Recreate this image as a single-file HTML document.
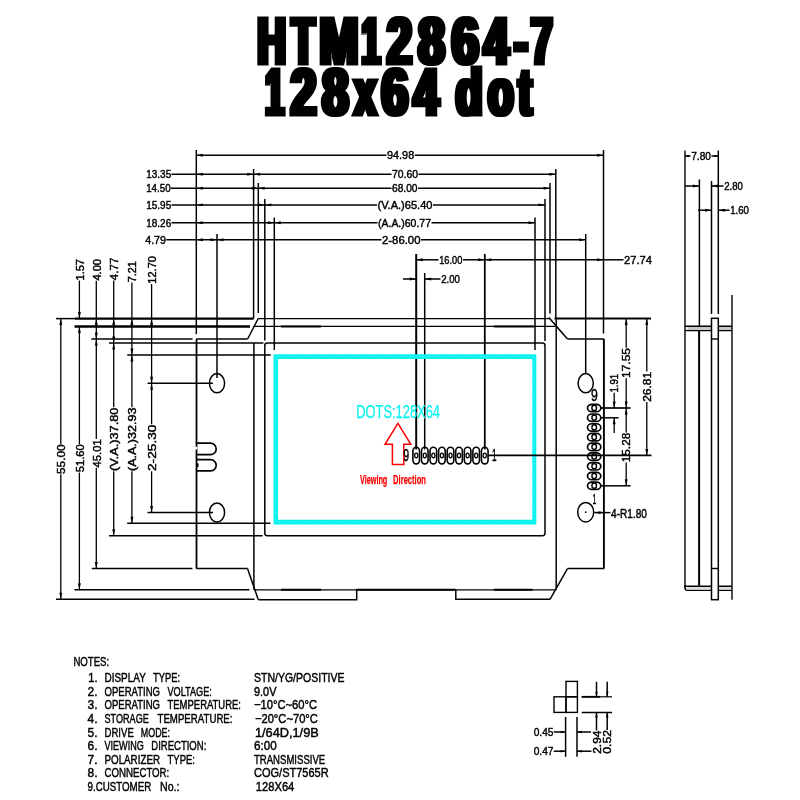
<!DOCTYPE html>
<html><head><meta charset="utf-8"><title>HTM12864-7 128x64 dot</title>
<style>
html,body{margin:0;padding:0;background:#fff;}
body{width:800px;height:800px;overflow:hidden;}
svg{display:block;}
.ttl{font-family:"Liberation Sans",sans-serif;font-weight:bold;stroke:#000;stroke-width:3px;stroke-linejoin:miter;}
.ns{stroke-width:0.25px !important;}
.t{font-family:"Liberation Sans",sans-serif;stroke-width:0.45px;paint-order:stroke;}
</style></head><body>
<svg width="800" height="800" viewBox="0 0 800 800">
<defs><filter id="fat" x="-5%" y="-5%" width="110%" height="110%"><feMorphology operator="dilate" radius="1.9 0"/></filter></defs>
<rect width="800" height="800" fill="#fff"/>
<g style="opacity:0.999">
<text class="ttl" filter="url(#fat)" font-size="70.0" transform="translate(0,63.59) scale(1,0.9408)" y="0"><tspan x="257.59" textLength="28.30" lengthAdjust="spacingAndGlyphs">H</tspan><tspan x="291.73" textLength="22.87" lengthAdjust="spacingAndGlyphs">T</tspan><tspan x="319.50" textLength="38.87" lengthAdjust="spacingAndGlyphs">M</tspan><tspan x="361.79" textLength="18.45" lengthAdjust="spacingAndGlyphs">1</tspan><tspan x="386.89" textLength="25.00" lengthAdjust="spacingAndGlyphs">2</tspan><tspan x="418.27" textLength="26.54" lengthAdjust="spacingAndGlyphs">8</tspan><tspan x="451.72" textLength="27.10" lengthAdjust="spacingAndGlyphs">6</tspan><tspan x="483.69" textLength="24.98" lengthAdjust="spacingAndGlyphs">4</tspan><tspan x="514.25" textLength="13.36" lengthAdjust="spacingAndGlyphs">-</tspan><tspan x="531.09" textLength="21.36" lengthAdjust="spacingAndGlyphs">7</tspan></text>
<text class="ttl" filter="url(#fat)" font-size="70.0" transform="translate(0,114.59) scale(1,0.9408)" y="0"><tspan x="265.54" textLength="18.40" lengthAdjust="spacingAndGlyphs">1</tspan><tspan x="290.68" textLength="25.58" lengthAdjust="spacingAndGlyphs">2</tspan><tspan x="322.38" textLength="26.28" lengthAdjust="spacingAndGlyphs">8</tspan><tspan x="354.35" textLength="22.00" lengthAdjust="spacingAndGlyphs">x</tspan><tspan x="381.53" textLength="26.68" lengthAdjust="spacingAndGlyphs">6</tspan><tspan x="413.44" textLength="25.22" lengthAdjust="spacingAndGlyphs">4</tspan> <tspan x="455.84" textLength="26.70" lengthAdjust="spacingAndGlyphs">d</tspan><tspan x="488.02" textLength="25.53" lengthAdjust="spacingAndGlyphs">o</tspan><tspan x="518.51" textLength="13.26" lengthAdjust="spacingAndGlyphs">t</tspan></text>
<line x1="196.3" y1="150" x2="196.3" y2="334.2" stroke="#000" stroke-width="1.5"/>
<line x1="603.5" y1="150" x2="603.5" y2="333.5" stroke="#000" stroke-width="1.5"/>
<line x1="253.6" y1="169" x2="253.6" y2="318.6" stroke="#000" stroke-width="1.5"/>
<line x1="555.8" y1="169" x2="555.8" y2="318.6" stroke="#000" stroke-width="1.5"/>
<line x1="258.3" y1="183" x2="258.3" y2="313" stroke="#000" stroke-width="1.5"/>
<line x1="550.0" y1="183" x2="550.0" y2="313.6" stroke="#000" stroke-width="1.5"/>
<line x1="264.8" y1="199" x2="264.8" y2="340.5" stroke="#000" stroke-width="1.5"/>
<line x1="545.0" y1="199" x2="545.0" y2="341" stroke="#000" stroke-width="1.5"/>
<line x1="274.3" y1="217.5" x2="274.3" y2="350" stroke="#000" stroke-width="1.5"/>
<line x1="535.0" y1="217.5" x2="535.0" y2="350" stroke="#000" stroke-width="1.5"/>
<line x1="217.0" y1="234" x2="217.0" y2="378" stroke="#000" stroke-width="1.5"/>
<line x1="585.7" y1="234" x2="585.7" y2="373.5" stroke="#000" stroke-width="1.5"/>
<line x1="196.3" y1="155.2" x2="386.5" y2="155.2" stroke="#000" stroke-width="1.5"/>
<line x1="414.7" y1="155.2" x2="603.5" y2="155.2" stroke="#000" stroke-width="1.5"/>
<polygon points="196.3,155.2 202.8,153.75 202.8,156.64999999999998" fill="#000"/>
<polygon points="603.5,155.2 597.0,153.75 597.0,156.64999999999998" fill="#000"/>
<text class="t" x="387" y="159.00" font-size="11.59" textLength="27.20" lengthAdjust="spacingAndGlyphs" fill="#000" stroke="#000" font-weight="normal">94.98</text>
<line x1="253.6" y1="174.2" x2="391.5" y2="174.2" stroke="#000" stroke-width="1.5"/>
<line x1="418.5" y1="174.2" x2="555.8" y2="174.2" stroke="#000" stroke-width="1.5"/>
<polygon points="253.6,174.2 260.1,172.75 260.1,175.64999999999998" fill="#000"/>
<polygon points="555.8,174.2 549.3,172.75 549.3,175.64999999999998" fill="#000"/>
<text class="t" x="392" y="178.00" font-size="11.59" textLength="26.00" lengthAdjust="spacingAndGlyphs" fill="#000" stroke="#000" font-weight="normal">70.60</text>
<line x1="258.3" y1="188.3" x2="391.5" y2="188.3" stroke="#000" stroke-width="1.5"/>
<line x1="418.0" y1="188.3" x2="550.0" y2="188.3" stroke="#000" stroke-width="1.5"/>
<polygon points="258.3,188.3 264.8,186.85000000000002 264.8,189.75" fill="#000"/>
<polygon points="550.0,188.3 543.5,186.85000000000002 543.5,189.75" fill="#000"/>
<text class="t" x="392" y="192.10" font-size="11.59" textLength="25.50" lengthAdjust="spacingAndGlyphs" fill="#000" stroke="#000" font-weight="normal">68.00</text>
<line x1="264.8" y1="204.9" x2="377.0" y2="204.9" stroke="#000" stroke-width="1.5"/>
<line x1="433.0" y1="204.9" x2="545.0" y2="204.9" stroke="#000" stroke-width="1.5"/>
<polygon points="264.8,204.9 271.3,203.45000000000002 271.3,206.35" fill="#000"/>
<polygon points="545.0,204.9 538.5,203.45000000000002 538.5,206.35" fill="#000"/>
<text class="t" x="377.5" y="208.70" font-size="11.59" textLength="55.00" lengthAdjust="spacingAndGlyphs" fill="#000" stroke="#000" font-weight="normal">(V.A.)65.40</text>
<line x1="274.3" y1="222.7" x2="377.5" y2="222.7" stroke="#000" stroke-width="1.5"/>
<line x1="431.5" y1="222.7" x2="535.0" y2="222.7" stroke="#000" stroke-width="1.5"/>
<polygon points="274.3,222.7 280.8,221.25 280.8,224.14999999999998" fill="#000"/>
<polygon points="535.0,222.7 528.5,221.25 528.5,224.14999999999998" fill="#000"/>
<text class="t" x="378" y="226.50" font-size="11.59" textLength="53.00" lengthAdjust="spacingAndGlyphs" fill="#000" stroke="#000" font-weight="normal">(A.A.)60.77</text>
<line x1="217.0" y1="239.8" x2="381.5" y2="239.8" stroke="#000" stroke-width="1.5"/>
<line x1="421.0" y1="239.8" x2="585.7" y2="239.8" stroke="#000" stroke-width="1.5"/>
<polygon points="217.0,239.8 223.5,238.35000000000002 223.5,241.25" fill="#000"/>
<polygon points="585.7,239.8 579.2,238.35000000000002 579.2,241.25" fill="#000"/>
<text class="t" x="382" y="243.60" font-size="11.59" textLength="38.50" lengthAdjust="spacingAndGlyphs" fill="#000" stroke="#000" font-weight="normal">2-86.00</text>
<text class="t" x="146.2" y="178.00" font-size="11.59" textLength="25.00" lengthAdjust="spacingAndGlyphs" fill="#000" stroke="#000" font-weight="normal">13.35</text>
<line x1="171.5" y1="174.2" x2="253.6" y2="174.2" stroke="#000" stroke-width="1.5"/>
<polygon points="196.3,174.2 202.8,172.75 202.8,175.64999999999998" fill="#000"/>
<polygon points="253.6,174.2 247.1,172.75 247.1,175.64999999999998" fill="#000"/>
<text class="t" x="146.2" y="192.10" font-size="11.59" textLength="24.40" lengthAdjust="spacingAndGlyphs" fill="#000" stroke="#000" font-weight="normal">14.50</text>
<line x1="170.9" y1="188.3" x2="258.3" y2="188.3" stroke="#000" stroke-width="1.5"/>
<polygon points="196.3,188.3 202.8,186.85000000000002 202.8,189.75" fill="#000"/>
<polygon points="258.3,188.3 251.8,186.85000000000002 251.8,189.75" fill="#000"/>
<text class="t" x="146.2" y="208.70" font-size="11.59" textLength="25.00" lengthAdjust="spacingAndGlyphs" fill="#000" stroke="#000" font-weight="normal">15.95</text>
<line x1="171.5" y1="204.9" x2="264.8" y2="204.9" stroke="#000" stroke-width="1.5"/>
<polygon points="196.3,204.9 202.8,203.45000000000002 202.8,206.35" fill="#000"/>
<polygon points="264.8,204.9 258.3,203.45000000000002 258.3,206.35" fill="#000"/>
<text class="t" x="146.2" y="226.50" font-size="11.59" textLength="25.00" lengthAdjust="spacingAndGlyphs" fill="#000" stroke="#000" font-weight="normal">18.26</text>
<line x1="171.5" y1="222.7" x2="274.3" y2="222.7" stroke="#000" stroke-width="1.5"/>
<polygon points="196.3,222.7 202.8,221.25 202.8,224.14999999999998" fill="#000"/>
<polygon points="274.3,222.7 267.8,221.25 267.8,224.14999999999998" fill="#000"/>
<text class="t" x="145.2" y="243.60" font-size="11.59" textLength="20.80" lengthAdjust="spacingAndGlyphs" fill="#000" stroke="#000" font-weight="normal">4.79</text>
<line x1="166.3" y1="239.8" x2="217.0" y2="239.8" stroke="#000" stroke-width="1.5"/>
<polygon points="196.3,239.8 202.8,238.35000000000002 202.8,241.25" fill="#000"/>
<polygon points="217.0,239.8 210.5,238.35000000000002 210.5,241.25" fill="#000"/>
<line x1="416.2" y1="254" x2="416.2" y2="449.5" stroke="#000" stroke-width="2.0"/>
<line x1="424.7" y1="273" x2="424.7" y2="449.5" stroke="#000" stroke-width="1.5"/>
<line x1="484.8" y1="254" x2="484.8" y2="449.5" stroke="#000" stroke-width="1.8"/>
<line x1="416.2" y1="259.8" x2="438.5" y2="259.8" stroke="#000" stroke-width="1.5"/>
<text class="t" x="439.2" y="263.60" font-size="11.59" textLength="23.10" lengthAdjust="spacingAndGlyphs" fill="#000" stroke="#000" font-weight="normal">16.00</text>
<line x1="463" y1="259.8" x2="484.8" y2="259.8" stroke="#000" stroke-width="1.5"/>
<polygon points="416.2,259.8 422.7,258.35 422.7,261.25" fill="#000"/>
<polygon points="484.8,259.8 478.3,258.35 478.3,261.25" fill="#000"/>
<line x1="484.8" y1="259.8" x2="603.5" y2="259.8" stroke="#000" stroke-width="1.5"/>
<polygon points="484.8,259.8 491.3,258.35 491.3,261.25" fill="#000"/>
<polygon points="603.5,259.8 597.0,258.35 597.0,261.25" fill="#000"/>
<line x1="603.5" y1="259.8" x2="623.5" y2="259.8" stroke="#000" stroke-width="1.5"/>
<text class="t" x="624" y="263.60" font-size="11.59" textLength="28.00" lengthAdjust="spacingAndGlyphs" fill="#000" stroke="#000" font-weight="normal">27.74</text>
<line x1="403" y1="279.0" x2="416.2" y2="279.0" stroke="#000" stroke-width="1.5"/>
<polygon points="416.2,279.0 409.7,277.55 409.7,280.45" fill="#000"/>
<line x1="424.7" y1="279.0" x2="440.5" y2="279.0" stroke="#000" stroke-width="1.5"/>
<polygon points="424.7,279.0 431.2,277.55 431.2,280.45" fill="#000"/>
<text class="t" x="441.2" y="282.80" font-size="11.59" textLength="18.80" lengthAdjust="spacingAndGlyphs" fill="#000" stroke="#000" font-weight="normal">2.00</text>
<line x1="75" y1="318.6" x2="253.6" y2="318.6" stroke="#000" stroke-width="2.4"/>
<line x1="56" y1="318.6" x2="76" y2="318.6" stroke="#000" stroke-width="1.5"/>
<line x1="74.5" y1="326.45" x2="250" y2="326.45" stroke="#000" stroke-width="2.4"/>
<line x1="91.3" y1="339.0" x2="192.6" y2="339.0" stroke="#000" stroke-width="1.5"/>
<line x1="196.3" y1="339.0" x2="247.6" y2="339.0" stroke="#000" stroke-width="1.5"/>
<line x1="109" y1="343.1" x2="263.4" y2="343.1" stroke="#000" stroke-width="1.5"/>
<line x1="127.2" y1="355.1" x2="270.8" y2="355.1" stroke="#000" stroke-width="1.5"/>
<line x1="147.5" y1="383.2" x2="213" y2="383.2" stroke="#000" stroke-width="1.5"/>
<line x1="147.5" y1="512.5" x2="213" y2="512.5" stroke="#000" stroke-width="1.5"/>
<line x1="127.2" y1="523.25" x2="270.4" y2="523.25" stroke="#000" stroke-width="1.5"/>
<line x1="109" y1="535.75" x2="262.6" y2="535.75" stroke="#000" stroke-width="1.5"/>
<line x1="91.8" y1="568.6" x2="192.4" y2="568.6" stroke="#000" stroke-width="1.5"/>
<line x1="74.5" y1="589.8" x2="249.4" y2="589.8" stroke="#000" stroke-width="1.5"/>
<line x1="56" y1="599.3" x2="254.5" y2="599.3" stroke="#000" stroke-width="1.5"/>
<line x1="60.8" y1="318.6" x2="60.8" y2="444" stroke="#000" stroke-width="1.3"/>
<line x1="60.8" y1="474.3" x2="60.8" y2="599.3" stroke="#000" stroke-width="1.3"/>
<polygon points="60.8,318.6 59.349999999999994,325.1 62.25,325.1" fill="#000"/>
<polygon points="60.8,599.3 59.349999999999994,592.8 62.25,592.8" fill="#000"/>
<text class="t" transform="translate(65.00,474) rotate(-90)" font-size="10.89" textLength="29.70" lengthAdjust="spacingAndGlyphs" fill="#000" stroke="#000">55.00</text>
<line x1="79.4" y1="280.5" x2="79.4" y2="318.6" stroke="#000" stroke-width="1.3"/>
<polygon points="79.4,318.6 77.95,312.1 80.85000000000001,312.1" fill="#000"/>
<text class="t" transform="translate(83.60,280.5) rotate(-90)" font-size="10.89" textLength="21.50" lengthAdjust="spacingAndGlyphs" fill="#000" stroke="#000">1.57</text>
<line x1="79.4" y1="326.45" x2="79.4" y2="444" stroke="#000" stroke-width="1.3"/>
<line x1="79.4" y1="472.5" x2="79.4" y2="589.8" stroke="#000" stroke-width="1.3"/>
<polygon points="79.4,326.45 77.95,332.95 80.85000000000001,332.95" fill="#000"/>
<polygon points="79.4,589.8 77.95,583.3 80.85000000000001,583.3" fill="#000"/>
<text class="t" transform="translate(83.60,472.3) rotate(-90)" font-size="10.89" textLength="28.00" lengthAdjust="spacingAndGlyphs" fill="#000" stroke="#000">51.60</text>
<line x1="96.3" y1="280.8" x2="96.3" y2="439" stroke="#000" stroke-width="1.3"/>
<polygon points="96.3,318.6 94.85,325.1 97.75,325.1" fill="#000"/>
<polygon points="96.3,339.0 94.85,332.5 97.75,332.5" fill="#000"/>
<polygon points="96.3,339.0 94.85,345.5 97.75,345.5" fill="#000"/>
<text class="t" transform="translate(100.60,280.6) rotate(-90)" font-size="10.89" textLength="21.60" lengthAdjust="spacingAndGlyphs" fill="#000" stroke="#000">4.00</text>
<line x1="96.3" y1="467.8" x2="96.3" y2="568.6" stroke="#000" stroke-width="1.3"/>
<polygon points="96.3,568.6 94.85,562.1 97.75,562.1" fill="#000"/>
<text class="t" transform="translate(100.50,467.6) rotate(-90)" font-size="10.89" textLength="28.40" lengthAdjust="spacingAndGlyphs" fill="#000" stroke="#000">45.01</text>
<line x1="113.7" y1="280.5" x2="113.7" y2="407.3" stroke="#000" stroke-width="1.3"/>
<polygon points="113.7,318.6 112.25,325.1 115.15,325.1" fill="#000"/>
<polygon points="113.7,343.1 112.25,336.6 115.15,336.6" fill="#000"/>
<polygon points="113.7,343.1 112.25,349.6 115.15,349.6" fill="#000"/>
<text class="t" transform="translate(117.80,280.2) rotate(-90)" font-size="10.89" textLength="22.60" lengthAdjust="spacingAndGlyphs" fill="#000" stroke="#000">4.77</text>
<line x1="113.7" y1="471.3" x2="113.7" y2="535.75" stroke="#000" stroke-width="1.3"/>
<polygon points="113.7,535.75 112.25,529.25 115.15,529.25" fill="#000"/>
<text class="t" transform="translate(117.90,471) rotate(-90)" font-size="10.89" textLength="63.40" lengthAdjust="spacingAndGlyphs" fill="#000" stroke="#000">(V.A.)37.80</text>
<line x1="131.9" y1="282.5" x2="131.9" y2="407.3" stroke="#000" stroke-width="1.3"/>
<polygon points="131.9,318.6 130.45000000000002,325.1 133.35,325.1" fill="#000"/>
<polygon points="131.9,355.1 130.45000000000002,348.6 133.35,348.6" fill="#000"/>
<polygon points="131.9,355.1 130.45000000000002,361.6 133.35,361.6" fill="#000"/>
<text class="t" transform="translate(136.00,282.2) rotate(-90)" font-size="10.89" textLength="21.00" lengthAdjust="spacingAndGlyphs" fill="#000" stroke="#000">7.21</text>
<line x1="131.9" y1="471.3" x2="131.9" y2="523.25" stroke="#000" stroke-width="1.3"/>
<polygon points="131.9,523.25 130.45000000000002,516.75 133.35,516.75" fill="#000"/>
<text class="t" transform="translate(136.10,471) rotate(-90)" font-size="10.89" textLength="63.40" lengthAdjust="spacingAndGlyphs" fill="#000" stroke="#000">(A.A.)32.93</text>
<line x1="151.6" y1="284" x2="151.6" y2="424.3" stroke="#000" stroke-width="1.3"/>
<polygon points="151.6,318.6 150.15,325.1 153.04999999999998,325.1" fill="#000"/>
<polygon points="151.6,383.2 150.15,376.7 153.04999999999998,376.7" fill="#000"/>
<polygon points="151.6,383.2 150.15,389.7 153.04999999999998,389.7" fill="#000"/>
<text class="t" transform="translate(155.60,283.7) rotate(-90)" font-size="10.89" textLength="27.70" lengthAdjust="spacingAndGlyphs" fill="#000" stroke="#000">12.70</text>
<line x1="151.6" y1="471.3" x2="151.6" y2="512.5" stroke="#000" stroke-width="1.3"/>
<polygon points="151.6,512.5 150.15,506.0 153.04999999999998,506.0" fill="#000"/>
<text class="t" transform="translate(155.80,471) rotate(-90)" font-size="10.89" textLength="46.40" lengthAdjust="spacingAndGlyphs" fill="#000" stroke="#000">2-25.30</text>
<line x1="196.5" y1="339.0" x2="196.5" y2="568.6" stroke="#000" stroke-width="1.8"/>
<line x1="196.3" y1="568.6" x2="247.5" y2="568.6" stroke="#000" stroke-width="1.5"/>
<line x1="247.5" y1="568.6" x2="258.3" y2="599.6999999999999" stroke="#000" stroke-width="1.5"/>
<line x1="258.5" y1="318.0" x2="247.6" y2="339.0" stroke="#000" stroke-width="1.5"/>
<line x1="258.5" y1="318.6" x2="550" y2="318.6" stroke="#000" stroke-width="1.3"/>
<line x1="554.5" y1="318.6" x2="651" y2="318.6" stroke="#000" stroke-width="2.0"/>
<line x1="253.5" y1="326.45" x2="555" y2="326.45" stroke="#000" stroke-width="1.3"/>
<line x1="281" y1="326.45" x2="321" y2="326.45" stroke="#000" stroke-width="2.0"/>
<line x1="493.8" y1="326.45" x2="533.8" y2="326.45" stroke="#000" stroke-width="2.0"/>
<line x1="548.8" y1="317.6" x2="567.5" y2="339.0" stroke="#000" stroke-width="1.5"/>
<line x1="567.5" y1="339.0" x2="604" y2="339.0" stroke="#000" stroke-width="1.5"/>
<line x1="603.9" y1="339.0" x2="603.9" y2="568.6" stroke="#000" stroke-width="1.9"/>
<line x1="567.5" y1="568.6" x2="603.9" y2="568.6" stroke="#000" stroke-width="1.5"/>
<line x1="567.5" y1="568.6" x2="550" y2="599.3" stroke="#000" stroke-width="1.5"/>
<line x1="253.9" y1="343.1" x2="253.9" y2="589.8" stroke="#000" stroke-width="1.5"/>
<line x1="556.2" y1="318.6" x2="556.2" y2="589.8" stroke="#000" stroke-width="1.5"/>
<line x1="253.9" y1="589.8" x2="556.2" y2="589.8" stroke="#000" stroke-width="1.3"/>
<line x1="281" y1="589.8" x2="321" y2="589.8" stroke="#000" stroke-width="2.0"/>
<line x1="356" y1="589.8" x2="455.8" y2="589.8" stroke="#000" stroke-width="2.0"/>
<line x1="493.8" y1="589.8" x2="532.5" y2="589.8" stroke="#000" stroke-width="2.0"/>
<path d="M258.3 599.6999999999999 L356.7 599.6999999999999 L356.7 589.8" stroke="#000" stroke-width="1.5" fill="none" stroke-linejoin="miter"/>
<path d="M455.8 589.8 L455.8 599.3 L550 599.3" stroke="#000" stroke-width="1.5" fill="none" stroke-linejoin="miter"/>
<rect x="264.8" y="343.1" width="280.2" height="192.64999999999998" rx="2.4" ry="2.4" fill="none" stroke="#000" stroke-width="1.5"/>
<path fill-rule="evenodd" fill="#08f2f0" d="M273.5 354.3 H536.3 V524.4 H273.5 Z M278 359 V519.8 H532.3 V359 Z"/>
<rect x="275.7" y="356.6" width="258.4" height="165.5" fill="none" stroke="#5ff8f6" stroke-width="1" stroke-dasharray="1 2.2"/>
<ellipse cx="217.0" cy="383.2" rx="7.6" ry="9.6" fill="none" stroke="#000" stroke-width="1.5"/>
<ellipse cx="217.0" cy="512.5" rx="7.6" ry="9.6" fill="none" stroke="#000" stroke-width="1.5"/>
<ellipse cx="585.7" cy="383.2" rx="7.6" ry="9.6" fill="none" stroke="#000" stroke-width="1.5"/>
<ellipse cx="585.7" cy="512.2" rx="8" ry="9.8" fill="none" stroke="#000" stroke-width="1.5"/>
<circle cx="585.7" cy="512.2" r="0.9" fill="#000"/>
<path d="M196.3 443.1 H210.4 A5.799999999999983 5.799999999999983 0 0 1 210.4 454.7 H196.3" fill="none" stroke="#000" stroke-width="1.7"/>
<ellipse cx="196.0" cy="448.03000000000003" rx="1.3" ry="1.6" fill="#fff"/>
<path d="M196.3 459.7 H210.6 A5.599999999999994 5.599999999999994 0 0 1 210.6 470.9 H196.3" fill="none" stroke="#000" stroke-width="1.7"/>
<ellipse cx="197.70000000000002" cy="465.29999999999995" rx="0.9" ry="2.2" fill="#000"/>
<text class="t ns" x="356.2" y="418.45" font-size="19.27" textLength="83.80" lengthAdjust="spacingAndGlyphs" fill="#08f2f0" stroke="#08f2f0" font-weight="normal">DOTS:128X64</text>
<path d="M397.9 423.4 L410.8 444.3 L403.8 444.3 L403.8 464.4 L392.4 464.4 L392.4 444.3 L385 444.3 Z" stroke="#ff0000" stroke-width="1.5" fill="none" stroke-linejoin="miter"/>
<text class="t ns" x="360" y="483.95" font-size="12.57" textLength="27.30" lengthAdjust="spacingAndGlyphs" fill="#ff0000" stroke="#ff0000" font-weight="bold">Viewing</text>
<text class="t ns" x="393.1" y="483.95" font-size="12.57" textLength="32.90" lengthAdjust="spacingAndGlyphs" fill="#ff0000" stroke="#ff0000" font-weight="bold">Direction</text>
<rect x="412.90" y="447.3" width="6.6" height="16.6" rx="3.3" ry="3.6" fill="none" stroke="#000" stroke-width="1.6"/>
<ellipse cx="416.20" cy="455.5" rx="1.6" ry="2.4" fill="none" stroke="#000" stroke-width="1.3"/>
<rect x="421.47" y="447.3" width="6.6" height="16.6" rx="3.3" ry="3.6" fill="none" stroke="#000" stroke-width="1.6"/>
<ellipse cx="424.77" cy="455.5" rx="1.6" ry="2.4" fill="none" stroke="#000" stroke-width="1.3"/>
<rect x="430.04" y="447.3" width="6.6" height="16.6" rx="3.3" ry="3.6" fill="none" stroke="#000" stroke-width="1.6"/>
<ellipse cx="433.34" cy="455.5" rx="1.6" ry="2.4" fill="none" stroke="#000" stroke-width="1.3"/>
<rect x="438.61" y="447.3" width="6.6" height="16.6" rx="3.3" ry="3.6" fill="none" stroke="#000" stroke-width="1.6"/>
<ellipse cx="441.91" cy="455.5" rx="1.6" ry="2.4" fill="none" stroke="#000" stroke-width="1.3"/>
<rect x="447.18" y="447.3" width="6.6" height="16.6" rx="3.3" ry="3.6" fill="none" stroke="#000" stroke-width="1.6"/>
<ellipse cx="450.48" cy="455.5" rx="1.6" ry="2.4" fill="none" stroke="#000" stroke-width="1.3"/>
<rect x="455.75" y="447.3" width="6.6" height="16.6" rx="3.3" ry="3.6" fill="none" stroke="#000" stroke-width="1.6"/>
<ellipse cx="459.05" cy="455.5" rx="1.6" ry="2.4" fill="none" stroke="#000" stroke-width="1.3"/>
<rect x="464.32" y="447.3" width="6.6" height="16.6" rx="3.3" ry="3.6" fill="none" stroke="#000" stroke-width="1.6"/>
<ellipse cx="467.62" cy="455.5" rx="1.6" ry="2.4" fill="none" stroke="#000" stroke-width="1.3"/>
<rect x="472.89" y="447.3" width="6.6" height="16.6" rx="3.3" ry="3.6" fill="none" stroke="#000" stroke-width="1.6"/>
<ellipse cx="476.19" cy="455.5" rx="1.6" ry="2.4" fill="none" stroke="#000" stroke-width="1.3"/>
<rect x="481.46" y="447.3" width="6.6" height="16.6" rx="3.3" ry="3.6" fill="none" stroke="#000" stroke-width="1.6"/>
<ellipse cx="484.76" cy="455.5" rx="1.6" ry="2.4" fill="none" stroke="#000" stroke-width="1.3"/>
<text class="t" x="403.3" y="460.85" font-size="16.20" textLength="5.90" lengthAdjust="spacingAndGlyphs" fill="#000" stroke="#000" font-weight="normal">9</text>
<text class="t" x="492" y="460.85" font-size="16.20" textLength="4.60" lengthAdjust="spacingAndGlyphs" fill="#000" stroke="#000" font-weight="normal">1</text>
<line x1="488.8" y1="455.35" x2="651.5" y2="455.35" stroke="#000" stroke-width="1.7"/>
<rect x="587.5" y="404.30" width="13.3" height="7.4" rx="4.4" ry="3.7" fill="none" stroke="#000" stroke-width="1.7"/>
<ellipse cx="594.2" cy="407.90" rx="2.3" ry="2.6" fill="none" stroke="#000" stroke-width="1.4"/>
<rect x="587.5" y="414.02" width="13.3" height="7.4" rx="4.4" ry="3.7" fill="none" stroke="#000" stroke-width="1.7"/>
<ellipse cx="594.2" cy="417.62" rx="2.3" ry="2.6" fill="none" stroke="#000" stroke-width="1.4"/>
<rect x="587.5" y="423.74" width="13.3" height="7.4" rx="4.4" ry="3.7" fill="none" stroke="#000" stroke-width="1.7"/>
<ellipse cx="594.2" cy="427.34" rx="2.3" ry="2.6" fill="none" stroke="#000" stroke-width="1.4"/>
<rect x="587.5" y="433.46" width="13.3" height="7.4" rx="4.4" ry="3.7" fill="none" stroke="#000" stroke-width="1.7"/>
<ellipse cx="594.2" cy="437.06" rx="2.3" ry="2.6" fill="none" stroke="#000" stroke-width="1.4"/>
<rect x="587.5" y="443.18" width="13.3" height="7.4" rx="4.4" ry="3.7" fill="none" stroke="#000" stroke-width="1.7"/>
<ellipse cx="594.2" cy="446.78" rx="2.3" ry="2.6" fill="none" stroke="#000" stroke-width="1.4"/>
<rect x="587.5" y="452.90" width="13.3" height="7.4" rx="4.4" ry="3.7" fill="none" stroke="#000" stroke-width="1.7"/>
<ellipse cx="594.2" cy="456.50" rx="2.3" ry="2.6" fill="none" stroke="#000" stroke-width="1.4"/>
<rect x="587.5" y="462.62" width="13.3" height="7.4" rx="4.4" ry="3.7" fill="none" stroke="#000" stroke-width="1.7"/>
<ellipse cx="594.2" cy="466.22" rx="2.3" ry="2.6" fill="none" stroke="#000" stroke-width="1.4"/>
<rect x="587.5" y="472.34" width="13.3" height="7.4" rx="4.4" ry="3.7" fill="none" stroke="#000" stroke-width="1.7"/>
<ellipse cx="594.2" cy="475.94" rx="2.3" ry="2.6" fill="none" stroke="#000" stroke-width="1.4"/>
<rect x="587.5" y="482.06" width="13.3" height="7.4" rx="4.4" ry="3.7" fill="none" stroke="#000" stroke-width="1.7"/>
<ellipse cx="594.2" cy="485.66" rx="2.3" ry="2.6" fill="none" stroke="#000" stroke-width="1.4"/>
<text class="t" x="591" y="400.60" font-size="16.06" textLength="6.80" lengthAdjust="spacingAndGlyphs" fill="#000" stroke="#000" font-weight="normal">9</text>
<text class="t" x="592.5" y="503.90" font-size="14.66" textLength="3.80" lengthAdjust="spacingAndGlyphs" fill="#000" stroke="#000" font-weight="normal">1</text>
<line x1="601" y1="408" x2="630.6" y2="408" stroke="#000" stroke-width="1.7"/>
<line x1="601" y1="417.8" x2="618.6" y2="417.8" stroke="#000" stroke-width="1.5"/>
<line x1="601" y1="485.8" x2="630.6" y2="485.8" stroke="#000" stroke-width="1.5"/>
<line x1="626.2" y1="318.6" x2="626.2" y2="347.8" stroke="#000" stroke-width="1.3"/>
<line x1="626.2" y1="378.3" x2="626.2" y2="408" stroke="#000" stroke-width="1.3"/>
<polygon points="626.2,318.6 624.75,325.1 627.6500000000001,325.1" fill="#000"/>
<polygon points="626.2,408 624.75,401.5 627.6500000000001,401.5" fill="#000"/>
<text class="t" transform="translate(630.40,378) rotate(-90)" font-size="10.89" textLength="30.00" lengthAdjust="spacingAndGlyphs" fill="#000" stroke="#000">17.55</text>
<line x1="626.2" y1="408" x2="626.2" y2="432.6" stroke="#000" stroke-width="1.3"/>
<line x1="626.2" y1="462.4" x2="626.2" y2="485.8" stroke="#000" stroke-width="1.3"/>
<polygon points="626.2,408 624.75,414.5 627.6500000000001,414.5" fill="#000"/>
<polygon points="626.2,485.8 624.75,479.3 627.6500000000001,479.3" fill="#000"/>
<text class="t" transform="translate(630.40,462.2) rotate(-90)" font-size="10.89" textLength="29.40" lengthAdjust="spacingAndGlyphs" fill="#000" stroke="#000">15.28</text>
<line x1="646.8" y1="318.6" x2="646.8" y2="371.6" stroke="#000" stroke-width="1.3"/>
<line x1="646.8" y1="402" x2="646.8" y2="455.4" stroke="#000" stroke-width="1.3"/>
<polygon points="646.8,318.6 645.3499999999999,325.1 648.25,325.1" fill="#000"/>
<polygon points="646.8,455.4 645.3499999999999,448.9 648.25,448.9" fill="#000"/>
<text class="t" transform="translate(651.00,401.8) rotate(-90)" font-size="10.89" textLength="30.00" lengthAdjust="spacingAndGlyphs" fill="#000" stroke="#000">26.81</text>
<line x1="614.2" y1="392.8" x2="614.2" y2="408" stroke="#000" stroke-width="1.3"/>
<polygon points="614.2,408 612.75,401.5 615.6500000000001,401.5" fill="#000"/>
<text class="t" transform="translate(618.20,392.5) rotate(-90)" font-size="10.61" textLength="18.70" lengthAdjust="spacingAndGlyphs" fill="#000" stroke="#000">1.91</text>
<line x1="614.2" y1="417.8" x2="614.2" y2="433" stroke="#000" stroke-width="1.3"/>
<polygon points="614.2,417.8 612.75,424.3 615.6500000000001,424.3" fill="#000"/>
<polygon points="594.2,512.6 600.7,511.15000000000003 600.7,514.0500000000001" fill="#000"/>
<line x1="594.2" y1="512.6" x2="610.5" y2="512.6" stroke="#000" stroke-width="1.5"/>
<text class="t" x="611" y="517.55" font-size="12.29" textLength="36.00" lengthAdjust="spacingAndGlyphs" fill="#000" stroke="#000" font-weight="normal">4-R1.80</text>
<line x1="718.3" y1="150.5" x2="718.3" y2="314" stroke="#000" stroke-width="1.5"/>
<line x1="699.4" y1="179.5" x2="699.4" y2="326" stroke="#000" stroke-width="1.5"/>
<line x1="711.5" y1="181" x2="711.5" y2="314" stroke="#000" stroke-width="1.5"/>
<line x1="685.0" y1="156" x2="690.5" y2="156" stroke="#000" stroke-width="1.5"/>
<line x1="711.5" y1="156" x2="718.3" y2="156" stroke="#000" stroke-width="1.5"/>
<polygon points="685.0,156 689.0,154.7 689.0,157.3" fill="#000"/>
<polygon points="718.3,156 714.3,154.7 714.3,157.3" fill="#000"/>
<text class="t" x="691.2" y="160.00" font-size="11.59" textLength="19.80" lengthAdjust="spacingAndGlyphs" fill="#000" stroke="#000" font-weight="normal">7.80</text>
<line x1="685.0" y1="186" x2="699.4" y2="186" stroke="#000" stroke-width="1.5"/>
<polygon points="699.4,186 692.9,184.55 692.9,187.45" fill="#000"/>
<polygon points="711.5,186 718.0,184.55 718.0,187.45" fill="#000"/>
<line x1="711.5" y1="186" x2="723.5" y2="186" stroke="#000" stroke-width="1.5"/>
<text class="t" x="724.2" y="190.10" font-size="11.59" textLength="18.80" lengthAdjust="spacingAndGlyphs" fill="#000" stroke="#000" font-weight="normal">2.80</text>
<line x1="698" y1="210.2" x2="711.5" y2="210.2" stroke="#000" stroke-width="1.5"/>
<polygon points="711.5,210.2 705.0,208.75 705.0,211.64999999999998" fill="#000"/>
<polygon points="718.3,210.2 724.8,208.75 724.8,211.64999999999998" fill="#000"/>
<line x1="718.3" y1="210.2" x2="729.5" y2="210.2" stroke="#000" stroke-width="1.5"/>
<text class="t" x="730.2" y="214.30" font-size="11.59" textLength="18.80" lengthAdjust="spacingAndGlyphs" fill="#000" stroke="#000" font-weight="normal">1.60</text>
<line x1="685.0" y1="150.5" x2="685.0" y2="588" stroke="#000" stroke-width="1.4"/>
<line x1="687.2" y1="328.4" x2="732.0" y2="328.4" stroke="#c8c8c8" stroke-width="3.4"/>
<line x1="685.0" y1="326.2" x2="732.0" y2="326.2" stroke="#000" stroke-width="1.4"/>
<line x1="685.0" y1="330.6" x2="732.0" y2="330.6" stroke="#000" stroke-width="1.4"/>
<path d="M685.0 585 V587.8 Q685.0 590.3 687.5 590.3 H732.0" fill="none" stroke="#000" stroke-width="1.4"/>
<line x1="686.5" y1="588.3" x2="732.0" y2="588.3" stroke="#ddd" stroke-width="3.0"/>
<line x1="685.0" y1="586.3" x2="732.0" y2="586.3" stroke="#000" stroke-width="1.4"/>
<line x1="699.1" y1="331" x2="699.1" y2="585.6" stroke="#000" stroke-width="2.0"/>
<line x1="732.0" y1="295" x2="732.0" y2="599.8" stroke="#000" stroke-width="1.4"/>
<rect x="711.5" y="318.3" width="6.7999999999999545" height="281.4" fill="#fff" stroke="#000" stroke-width="1.5"/>
<line x1="711.5" y1="339" x2="718.3" y2="339" stroke="#000" stroke-width="1.4"/>
<line x1="711.5" y1="568.5" x2="718.3" y2="568.5" stroke="#000" stroke-width="1.4"/>
<rect x="566" y="681.4" width="11.4" height="15.4" fill="none" stroke="#000" stroke-width="1.4"/>
<rect x="554" y="696.8" width="12" height="15.6" fill="none" stroke="#000" stroke-width="1.4"/>
<rect x="566" y="696.8" width="11.4" height="15.6" fill="none" stroke="#000" stroke-width="1.4"/>
<line x1="581.7" y1="696.8" x2="612" y2="696.8" stroke="#000" stroke-width="1.2"/>
<line x1="581.7" y1="696.8" x2="600" y2="696.8" stroke="#000" stroke-width="1.8"/>
<line x1="581.7" y1="712.5" x2="612" y2="712.5" stroke="#000" stroke-width="1.5"/>
<line x1="596.5" y1="681.8" x2="596.5" y2="696.8" stroke="#000" stroke-width="1.5"/>
<polygon points="596.5,696.8 595.2,691.8 597.8,691.8" fill="#000"/>
<line x1="607.2" y1="681.8" x2="607.2" y2="696.8" stroke="#000" stroke-width="1.5"/>
<polygon points="607.2,696.8 605.9000000000001,691.8 608.5,691.8" fill="#000"/>
<line x1="596.5" y1="712.5" x2="596.5" y2="730.5" stroke="#000" stroke-width="1.5"/>
<polygon points="596.5,712.5 595.2,717.5 597.8,717.5" fill="#000"/>
<line x1="607.2" y1="712.5" x2="607.2" y2="730" stroke="#000" stroke-width="1.5"/>
<polygon points="607.2,712.5 605.9000000000001,717.5 608.5,717.5" fill="#000"/>
<text class="t" transform="translate(600.60,753.8) rotate(-90)" font-size="10.61" textLength="23.20" lengthAdjust="spacingAndGlyphs" fill="#000" stroke="#000">2.94</text>
<text class="t" transform="translate(611.40,753.8) rotate(-90)" font-size="10.61" textLength="24.00" lengthAdjust="spacingAndGlyphs" fill="#000" stroke="#000">0.52</text>
<line x1="565.6" y1="717" x2="565.6" y2="756.8" stroke="#000" stroke-width="1.5"/>
<line x1="577" y1="717" x2="577" y2="756.8" stroke="#000" stroke-width="1.5"/>
<text class="t" x="533.7" y="735.95" font-size="11.45" textLength="19.80" lengthAdjust="spacingAndGlyphs" fill="#000" stroke="#000" font-weight="normal">0.45</text>
<line x1="553.8" y1="732" x2="565.6" y2="732" stroke="#000" stroke-width="1.5"/>
<polygon points="565.6,732 560.6,730.7 560.6,733.3" fill="#000"/>
<polygon points="577,732 582,730.7 582,733.3" fill="#000"/>
<line x1="577" y1="732" x2="591" y2="732" stroke="#000" stroke-width="1.5"/>
<text class="t" x="533.7" y="755.15" font-size="11.45" textLength="19.80" lengthAdjust="spacingAndGlyphs" fill="#000" stroke="#000" font-weight="normal">0.47</text>
<line x1="553.8" y1="751.2" x2="565.6" y2="751.2" stroke="#000" stroke-width="1.5"/>
<polygon points="565.6,751.2 560.6,749.9000000000001 560.6,752.5" fill="#000"/>
<polygon points="577,751.2 582,749.9000000000001 582,752.5" fill="#000"/>
<line x1="577" y1="751.2" x2="591.5" y2="751.2" stroke="#000" stroke-width="1.5"/>
<text class="t" x="73.4" y="665.80" font-size="12.57" textLength="35.80" lengthAdjust="spacingAndGlyphs" stroke="#000">NOTES:</text>
<text class="t" x="88.2" y="682.00" font-size="12.57" textLength="9.30" lengthAdjust="spacingAndGlyphs" stroke="#000">1.</text>
<text class="t" x="104.5" y="682.00" font-size="12.57" textLength="41.30" lengthAdjust="spacingAndGlyphs" stroke="#000">DISPLAY</text>
<text class="t" x="153" y="682.00" font-size="12.57" textLength="27.00" lengthAdjust="spacingAndGlyphs" stroke="#000">TYPE:</text>
<text class="t" x="254" y="682.00" font-size="12.57" textLength="90.50" lengthAdjust="spacingAndGlyphs" stroke="#000">STN/YG/POSITIVE</text>
<text class="t" x="87.5" y="695.70" font-size="12.57" textLength="10.00" lengthAdjust="spacingAndGlyphs" stroke="#000">2.</text>
<text class="t" x="104.5" y="695.70" font-size="12.57" textLength="55.50" lengthAdjust="spacingAndGlyphs" stroke="#000">OPERATING</text>
<text class="t" x="167.5" y="695.70" font-size="12.57" textLength="44.30" lengthAdjust="spacingAndGlyphs" stroke="#000">VOLTAGE:</text>
<text class="t" x="254" y="695.70" font-size="12.57" textLength="22.40" lengthAdjust="spacingAndGlyphs" stroke="#000">9.0V</text>
<text class="t" x="87.5" y="709.30" font-size="12.57" textLength="10.00" lengthAdjust="spacingAndGlyphs" stroke="#000">3.</text>
<text class="t" x="104.5" y="709.30" font-size="12.57" textLength="55.50" lengthAdjust="spacingAndGlyphs" stroke="#000">OPERATING</text>
<text class="t" x="167.5" y="709.30" font-size="12.57" textLength="73.50" lengthAdjust="spacingAndGlyphs" stroke="#000">TEMPERATURE:</text>
<text class="t" x="254" y="709.30" font-size="12.57" textLength="63.00" lengthAdjust="spacingAndGlyphs" stroke="#000">−10°C~60°C</text>
<text class="t" x="87.5" y="723.00" font-size="12.57" textLength="10.00" lengthAdjust="spacingAndGlyphs" stroke="#000">4.</text>
<text class="t" x="104.5" y="723.00" font-size="12.57" textLength="44.30" lengthAdjust="spacingAndGlyphs" stroke="#000">STORAGE</text>
<text class="t" x="157.5" y="723.00" font-size="12.57" textLength="75.00" lengthAdjust="spacingAndGlyphs" stroke="#000">TEMPERATURE:</text>
<text class="t" x="254.9" y="723.00" font-size="12.57" textLength="63.00" lengthAdjust="spacingAndGlyphs" stroke="#000">−20°C~70°C</text>
<text class="t" x="87.5" y="736.70" font-size="12.57" textLength="10.00" lengthAdjust="spacingAndGlyphs" stroke="#000">5.</text>
<text class="t" x="104.5" y="736.70" font-size="12.57" textLength="29.30" lengthAdjust="spacingAndGlyphs" stroke="#000">DRIVE</text>
<text class="t" x="140.8" y="736.70" font-size="12.57" textLength="29.20" lengthAdjust="spacingAndGlyphs" stroke="#000">MODE:</text>
<text class="t" x="254.9" y="736.70" font-size="12.57" textLength="63.90" lengthAdjust="spacingAndGlyphs" stroke="#000">1/64D,1/9B</text>
<text class="t" x="87.5" y="750.20" font-size="12.57" textLength="10.00" lengthAdjust="spacingAndGlyphs" stroke="#000">6.</text>
<text class="t" x="104.5" y="750.20" font-size="12.57" textLength="39.30" lengthAdjust="spacingAndGlyphs" stroke="#000">VIEWING</text>
<text class="t" x="151.3" y="750.20" font-size="12.57" textLength="55.00" lengthAdjust="spacingAndGlyphs" stroke="#000">DIRECTION:</text>
<text class="t" x="254" y="750.20" font-size="12.57" textLength="22.80" lengthAdjust="spacingAndGlyphs" stroke="#000">6:00</text>
<text class="t" x="87.5" y="763.80" font-size="12.57" textLength="10.00" lengthAdjust="spacingAndGlyphs" stroke="#000">7.</text>
<text class="t" x="104.5" y="763.80" font-size="12.57" textLength="55.50" lengthAdjust="spacingAndGlyphs" stroke="#000">POLARIZER</text>
<text class="t" x="167.5" y="763.80" font-size="12.57" textLength="27.50" lengthAdjust="spacingAndGlyphs" stroke="#000">TYPE:</text>
<text class="t" x="254" y="763.80" font-size="12.57" textLength="71.20" lengthAdjust="spacingAndGlyphs" stroke="#000">TRANSMISSIVE</text>
<text class="t" x="87.5" y="777.30" font-size="12.57" textLength="10.00" lengthAdjust="spacingAndGlyphs" stroke="#000">8.</text>
<text class="t" x="104.5" y="777.30" font-size="12.57" textLength="64.80" lengthAdjust="spacingAndGlyphs" stroke="#000">CONNECTOR:</text>
<text class="t" x="254" y="777.30" font-size="12.57" textLength="74.70" lengthAdjust="spacingAndGlyphs" stroke="#000">COG/ST7565R</text>
<text class="t" x="87.5" y="791.10" font-size="12.57" textLength="63.80" lengthAdjust="spacingAndGlyphs" stroke="#000">9.CUSTOMER</text>
<text class="t" x="160" y="791.10" font-size="12.57" textLength="19.50" lengthAdjust="spacingAndGlyphs" stroke="#000">No.:</text>
<text class="t" x="255.8" y="791.10" font-size="12.57" textLength="38.50" lengthAdjust="spacingAndGlyphs" stroke="#000">128X64</text>
</g>
</svg>
</body></html>
